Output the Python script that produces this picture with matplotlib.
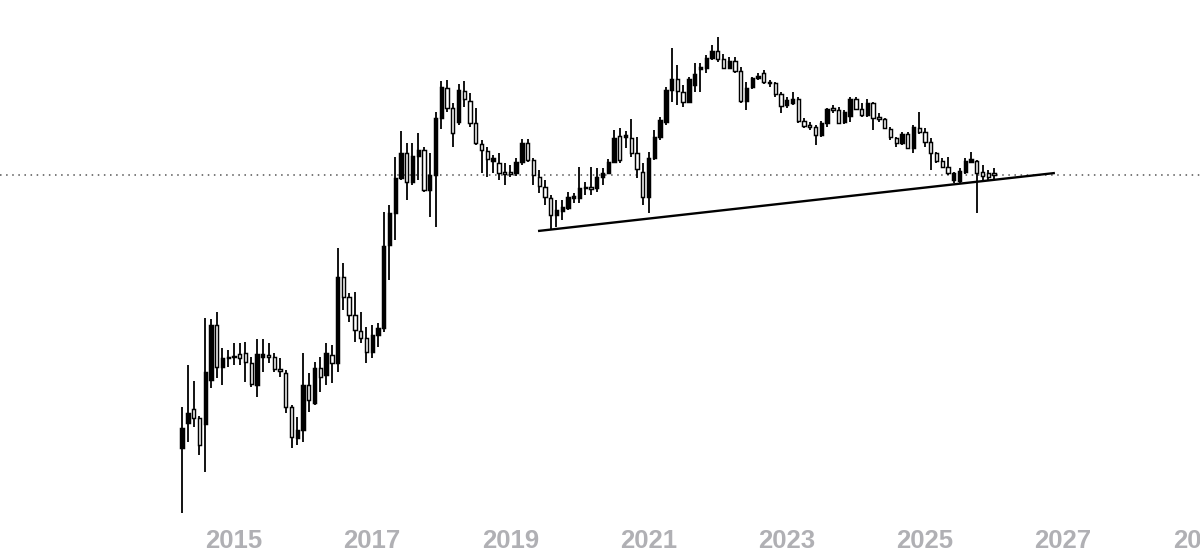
import matplotlib
matplotlib.use("Agg")
import matplotlib.pyplot as plt
import matplotlib.transforms as mtransforms
import numpy as np
import pandas as pd

# monthly candles, Apr 2014 .. Jan 2026 (unitless price levels)
opens = [109, 134, 148, 139, 133, 177, 232, 190, 199, 201, 203, 204, 194, 172, 200, 202,
         200, 188, 184, 150, 119, 127, 172, 154, 189, 182, 202, 194, 280, 260, 242, 226,
         219, 205, 222, 229, 312, 344, 379, 404, 375, 401, 407, 367, 382, 439, 469, 449,
         435, 466, 456, 434, 413, 406, 396, 394, 385, 385, 384, 395, 414, 397, 380, 370,
         359, 342, 346, 349, 359, 359, 369, 370, 369, 380, 384, 395, 421, 420, 419, 404,
         385, 360, 399, 420, 435, 467, 478, 465, 455, 472, 488, 489, 499, 506, 498, 489,
         496, 486, 456, 470, 479, 484, 475, 474, 463, 452, 454, 458, 436, 432, 430, 422,
         434, 449, 447, 435, 441, 458, 448, 442, 454, 440, 438, 428, 419, 414, 423, 409,
         429, 425, 415, 404, 396, 390, 377, 376, 385, 395, 396, 385, 384, 384]
highs = [150, 192, 176, 141, 239, 238, 245, 209, 207, 214, 214, 215, 200, 218, 218, 214,
         204, 199, 187, 152, 140, 204, 184, 195, 200, 214, 212, 309, 294, 264, 265, 245,
         230, 232, 234, 345, 352, 400, 426, 414, 414, 424, 410, 404, 445, 476, 477, 454,
         473, 476, 464, 449, 417, 410, 402, 404, 394, 392, 399, 418, 418, 399, 387, 377,
         362, 357, 357, 365, 364, 390, 375, 390, 389, 389, 398, 427, 429, 426, 438, 420,
         394, 405, 427, 440, 470, 509, 492, 472, 480, 494, 494, 502, 512, 520, 503, 500,
         500, 490, 475, 480, 484, 487, 477, 475, 465, 460, 465, 460, 439, 435, 432, 436,
         449, 452, 450, 447, 460, 460, 454, 458, 455, 444, 439, 430, 420, 425, 425, 432,
         445, 429, 419, 405, 399, 400, 385, 389, 399, 405, 397, 392, 387, 389]
lows = [44, 115, 130, 102, 85, 169, 179, 172, 190, 192, 192, 175, 170, 160, 185, 194,
        185, 180, 144, 109, 112, 115, 145, 152, 165, 172, 174, 185, 247, 235, 215, 214,
        194, 199, 210, 225, 277, 317, 377, 357, 372, 377, 365, 340, 330, 428, 445, 410,
        432, 450, 430, 412, 384, 380, 384, 377, 372, 380, 381, 392, 395, 372, 364, 352,
        327, 330, 337, 347, 354, 354, 362, 362, 365, 372, 383, 394, 394, 409, 400, 379,
        352, 344, 397, 417, 432, 455, 452, 450, 454, 465, 465, 484, 497, 495, 488, 488,
        484, 454, 447, 468, 477, 473, 470, 460, 444, 449, 452, 434, 429, 427, 412, 420,
        430, 444, 433, 433, 435, 447, 440, 440, 427, 435, 428, 417, 410, 412, 408, 404,
        423, 410, 387, 394, 389, 382, 374, 374, 383, 394, 344, 377, 376, 378]
closes = [129, 144, 139, 112, 185, 232, 190, 199, 200, 200, 199, 195, 173, 203, 203, 200,
          188, 186, 150, 120, 127, 172, 157, 189, 180, 204, 194, 280, 260, 242, 227, 219,
          205, 222, 229, 311, 344, 379, 404, 375, 401, 407, 367, 382, 439, 470, 449, 424,
          467, 458, 434, 414, 407, 398, 399, 384, 383, 383, 395, 414, 397, 382, 371, 360,
          342, 347, 350, 360, 361, 369, 370, 368, 380, 384, 395, 419, 397, 422, 404, 388,
          360, 399, 420, 437, 467, 478, 466, 455, 478, 483, 490, 499, 506, 498, 489, 496,
          486, 456, 469, 479, 481, 475, 474, 463, 451, 457, 458, 436, 431, 430, 422, 434,
          448, 447, 434, 445, 458, 448, 442, 454, 439, 438, 429, 420, 414, 423, 409, 430,
          425, 415, 404, 396, 390, 384, 384, 386, 396, 398, 384, 381, 380, 382]

dates = pd.date_range("2014-04-01", periods=len(opens), freq="MS")
years = ["2015", "2017", "2019", "2021", "2023", "2025", "2027", "2029"]

support_level = 382
trend_x = [2019.40, 2026.88]
trend_y = [326, 384]

o = np.array(opens)
h = np.array(highs)
l = np.array(lows)
c = np.array(closes)
t = dates.year + (dates.month - 1) / 12.0

fig = plt.figure(figsize=(12, 5.57), dpi=100)
ax = fig.add_axes([0, 0, 1, 1])
ax.set_xlim(2011.614, 2028.98)
ax.set_ylim(0, 557)
ax.axis("off")

# dotted horizontal level
ax.axhline(support_level, color="#555555", lw=1.1, ls=(0, (1, 3)), zorder=1)

# wicks then bodies (black = up, hollow = down)
ax.vlines(t, l, h, color="black", lw=1.3, zorder=2)
up = c >= o
bottoms = np.minimum(o, c)
heights = np.abs(c - o)
ax.bar(t, heights, bottom=bottoms, width=0.048,
       color=np.where(up, "black", "white"), edgecolor="black",
       linewidth=1.05, zorder=3)

# rising trendline
ax.plot(trend_x, trend_y, color="black", lw=1.7, solid_capstyle="butt", zorder=4)

# year labels along the bottom
trans = mtransforms.blended_transform_factory(ax.transData, ax.transAxes)
for y in years:
    ax.text(int(y), 0.0287, y, transform=trans, ha="center", va="center",
            fontsize=18.5, fontweight="bold", family="Liberation Sans",
            color="#b0b0b4", clip_on=False)

fig.savefig("out.png", dpi=100, facecolor="white")
